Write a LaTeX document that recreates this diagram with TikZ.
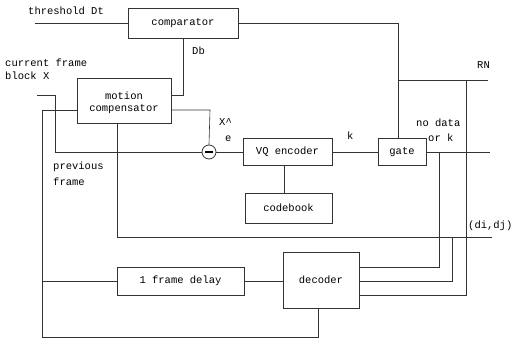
\documentclass[tikz,border=0pt]{standalone}
\usepackage{fontspec}
\setmonofont{Liberation Mono}
\newcommand\diagfont{\ttfamily\fontsize{10.5}{12}\selectfont}
\begin{document}
\begin{tikzpicture}[x=1pt,y=-1pt,
  box/.style={draw=black!80, line width=0.6pt, inner sep=0pt, font=\diagfont, align=center},
  wire/.style={draw=black!80, line width=0.6pt},
  lbl/.style={font=\diagfont, inner sep=0pt, align=left}]
\useasboundingbox (0,0) rectangle (522,342);
% blocks
\node[box, minimum width=110pt, minimum height=30pt] (comp) at (183,23) {comparator};
\node[box, minimum width=94pt, minimum height=45pt] (mc) at (124,100.5) {};
\node[lbl] (mct1) at (124,96) {motion};
\node[lbl] (mct2) at (124,109) {compensator};
\node[box, minimum width=89pt, minimum height=27pt] (vq) at (287.5,152) {VQ encoder};
\node[box, minimum width=48pt, minimum height=27pt] (gate) at (402,152) {gate};
\node[box, minimum width=87pt, minimum height=30pt] (cb) at (288.5,208) {codebook};
\node[box, minimum width=127pt, minimum height=28pt] (delay) at (180.5,281) {1 frame delay};
\node[box, minimum width=76pt, minimum height=56pt] (dec) at (321,280) {decoder};
\node[draw=black!80, line width=0.8pt, circle, minimum size=14pt, inner sep=0pt] (sub) at (209,152) {};
\draw[line width=1.6pt] ([xshift=-4pt]sub.center) -- ([xshift=4pt]sub.center);
% junctions and free ends
\coordinate (tin) at (35,23);
\coordinate (cr) at (398,23);
\coordinate (rnj) at (398,80);
\coordinate (rnout) at (488,80);
\coordinate (rnd) at (466,80);
\coordinate (rnb) at (466,295);
\coordinate (dbc) at (183,95);
\coordinate (xh) at (210,110);
\coordinate (xin) at (37,95);
\coordinate (xc) at (55,95);
\coordinate (xb) at (55,152);
\coordinate (pft) at (42,110);
\coordinate (pfb) at (42,337);
\coordinate (decb) at (318,337);
\coordinate (pfd) at (42,281);
\coordinate (gout) at (490,152);
\coordinate (gj) at (439,152);
\coordinate (gd) at (439,267);
\coordinate (mvb) at (117,237);
\coordinate (mvout) at (492,237);
\coordinate (mvj) at (452,237);
\coordinate (mvd) at (452,281);
\coordinate (cbx) at (284,180);
% connectors
\draw[wire] (tin) -- (comp.west);
\draw[wire] (comp.east) -- (cr) -- (gate.north -| cr);
\draw[wire] (rnj) -- (rnout);
\draw[wire] (rnd) -- (rnb) -- (dec.east |- rnb);
\draw[wire] (mc.east |- dbc) -- (dbc) -- (comp.south -| dbc);
\draw[wire] (mc.east |- xh) -- (xh) -- (sub.north);
\draw[wire] (xin) -- (xc) -- (xb) -- (sub.west);
\draw[wire] (pft) -- (mc.west |- pft);
\draw[wire] (pft) -- (pfb) -- (decb) -- (dec.south -| decb);
\draw[wire] (delay.west) -- (pfd);
\draw[wire] (delay.east) -- (dec.west |- delay.east);
\draw[wire] (sub.east) -- (vq.west);
\draw[wire] (vq.south -| cbx) -- (cb.north -| cbx);
\draw[wire] (vq.east) -- (gate.west);
\draw[wire] (gate.east) -- (gout);
\draw[wire] (gj) -- (gd) -- (dec.east |- gd);
\draw[wire] (mc.south -| mvb) -- (mvb) -- (mvout);
\draw[wire] (mvj) -- (mvd) -- (dec.east |- mvd);
% labels
\node[lbl, anchor=west] (lthr) at (28,11) {threshold Dt};
\node[lbl, anchor=west] (lcur1) at (5,63) {current frame};
\node[lbl, anchor=west] (lcur2) at (5,76) {block X};
\node[lbl, anchor=west] (lprev1) at (53,167) {previous};
\node[lbl, anchor=west] (lprev2) at (53,182) {frame};
\node[lbl, anchor=west] (ldb) at (192,51) {Db};
\node[lbl, anchor=west] (lxh) at (219,122) {X\textasciicircum};
\node[lbl, anchor=west] (le) at (225,139) {e};
\node[lbl, anchor=west] (lk) at (347,136) {k};
\node[lbl, anchor=west] (lnd1) at (416,123) {no data};
\node[lbl, anchor=west] (lnd2) at (428,138) {or k};
\node[lbl, anchor=west] (lrn) at (477,65) {RN};
\node[lbl, anchor=west] (ldij) at (468,226) {(di,dj)};
\end{tikzpicture}
\end{document}
